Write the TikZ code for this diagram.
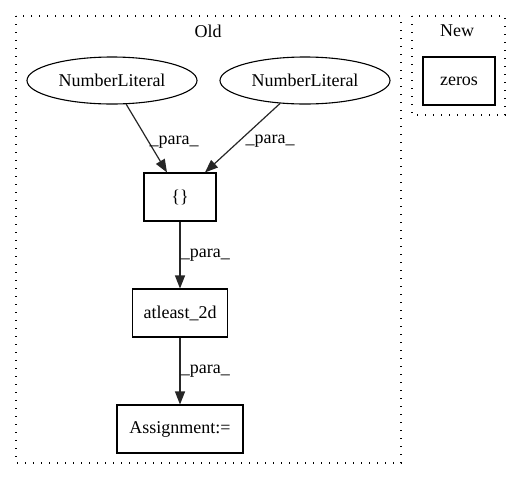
\documentclass[tikz,border=0pt]{standalone}
\usepackage{fontspec}
\setmainfont{Liberation Serif}
\usetikzlibrary{shapes.geometric,arrows.meta}
\begin{document}
\begin{tikzpicture}[x=1pt,y=-1pt,
  box/.style={draw,rectangle,minimum width=#1,minimum height=48pt,inner sep=0pt,line width=1.1pt,font=\fontsize{18}{20}\selectfont},
  ell/.style={draw,ellipse,minimum width=170pt,minimum height=47pt,inner sep=0pt,line width=1.1pt,font=\fontsize{18}{20}\selectfont},
  clus/.style={draw,line width=1.3pt,dash pattern=on 1.3pt off 6.7pt},
  lab/.style={font=\fontsize{18}{20}\selectfont},
  edge/.style={-{Triangle[length=13pt,width=10pt]},draw=black!85,line width=1.2pt}]
\useasboundingbox (0,0) rectangle (521,480);
\draw[clus] (16,16) rectangle (401,463);
\draw[clus] (412,16) rectangle (505,115);
\node[lab] (oldl) at (208,31) {Old};
\node[lab] (newl) at (457,31) {New};
\node[box=72pt] (zeros) at (459,81) {zeros};
\node[ell] (n1) at (112,80.5) {NumberLiteral};
\node[ell] (n2) at (305,80.5) {NumberLiteral};
\node[box=72pt] (br) at (180,197) {\{\}};
\node[box=95pt] (at) at (180,313) {atleast\_2d};
\node[box=126pt] (as) at (180,429) {Assignment:=};
\draw[edge] (n1) -- (br.north -| 167,0) node[lab,pos=0.55,right=-3pt] {\_para\_};
\draw[edge] (n2) -- (br.north -| 205,0) node[lab,pos=0.55,right=3pt] {\_para\_};
\draw[edge] (br) -- (at) node[lab,midway,right=-3pt] {\_para\_};
\draw[edge] (at) -- (as) node[lab,midway,right=-3pt] {\_para\_};
\end{tikzpicture}
\end{document}
